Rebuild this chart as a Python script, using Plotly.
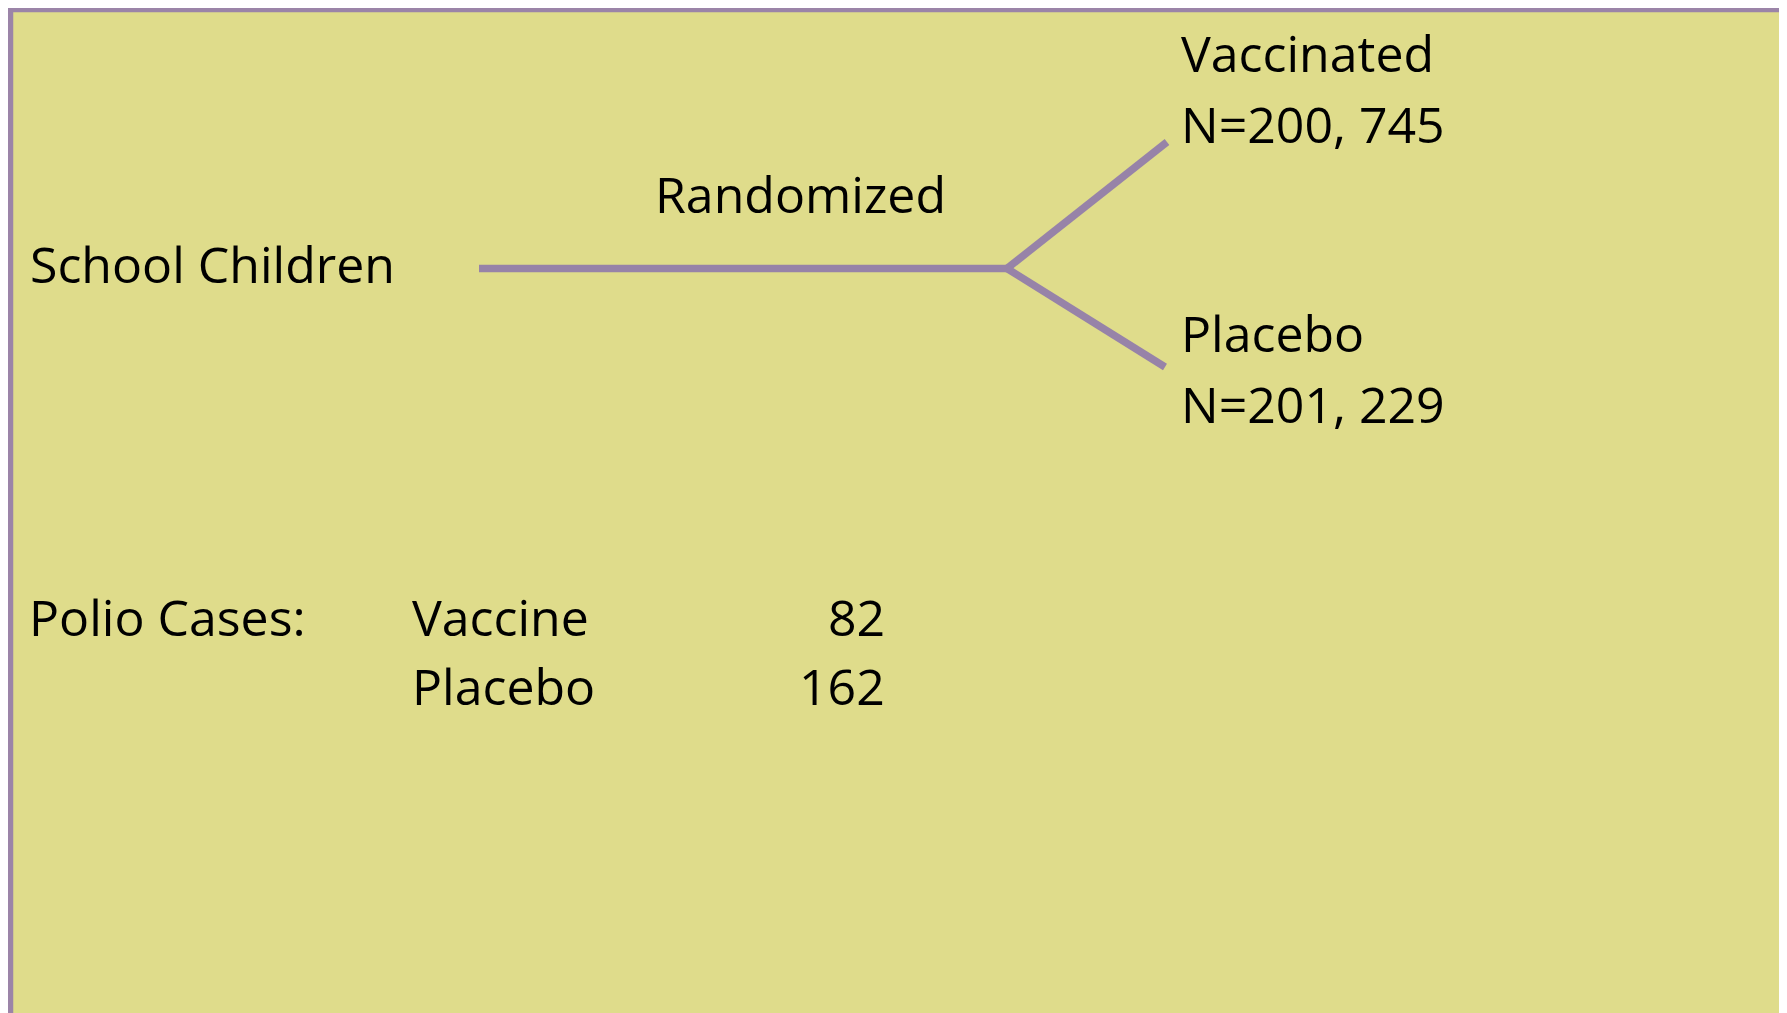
import plotly.graph_objects as go

# ---- data ----
root_label = "School Children"
step_label = "Randomized"
groups = ["Vaccinated", "Placebo"]
group_n = [200745, 201229]
cases_title = "Polio Cases:"
case_labels = ["Vaccine", "Placebo"]
cases = [82, 162]

# ---- layout constants (window-pixel coordinates) ----
W, H = 1787, 1013
OFF = 8  # page body margin
FONT = "Open Sans"
FS = 50
TXT = "#000000"
LINE_C = "#9783A8"
BORDER_C = "#9B84A8"
FILL_C = "#DFDC8B"

def fmt_n(n):
    return "N=" + f"{n:,}".replace(",", ", ")

fig = go.Figure()

# tree lines
root_y = 268.5
junction_x = 1007
stem_x0 = 479
branch_end = [(1167, 142), (1165, 367)]

fig.add_trace(go.Scatter(x=[stem_x0, junction_x], y=[root_y, root_y], mode="lines",
                         line=dict(color=LINE_C, width=7.5), hoverinfo="skip", showlegend=False))
for (ex, ey) in branch_end:
    fig.add_trace(go.Scatter(x=[junction_x, ex], y=[root_y, ey], mode="lines",
                             line=dict(color=LINE_C, width=7.5), hoverinfo="skip", showlegend=False))

ann = []
def add_text(x, baseline, text, anchor="left"):
    ann.append(dict(x=x, y=baseline - 19, text=text, showarrow=False, xanchor=anchor,
                    yanchor="middle", xref="x", yref="y",
                    font=dict(family=FONT, size=FS, color=TXT)))

add_text(28, 283, root_label)
add_text(653, 213, step_label)

group_baselines = [72, 352]
for g, n, b in zip(groups, group_n, group_baselines):
    add_text(1179, b, g)
    add_text(1179, b + 71, fmt_n(n))

case_baselines = [636, 705]
add_text(27, case_baselines[0], cases_title)
for lab, c, b in zip(case_labels, cases, case_baselines):
    add_text(410, b, lab)
    add_text(887, b, str(c), anchor="right")

fig.update_layout(
    width=W - OFF, height=H - OFF,
    margin=dict(l=0, r=0, t=0, b=0),
    paper_bgcolor="#FAFAFA",
    plot_bgcolor="rgba(0,0,0,0)",
    xaxis=dict(range=[OFF, W], visible=False, fixedrange=True),
    yaxis=dict(range=[H, OFF], visible=False, fixedrange=True),
    annotations=ann,
    shapes=[dict(type="rect", xref="x", yref="y", x0=10.5, y0=9.5, x1=1787, y1=1040,
                 line=dict(color=BORDER_C, width=5.5), fillcolor=FILL_C, layer="below")],
)

fig.write_html("out.html")
